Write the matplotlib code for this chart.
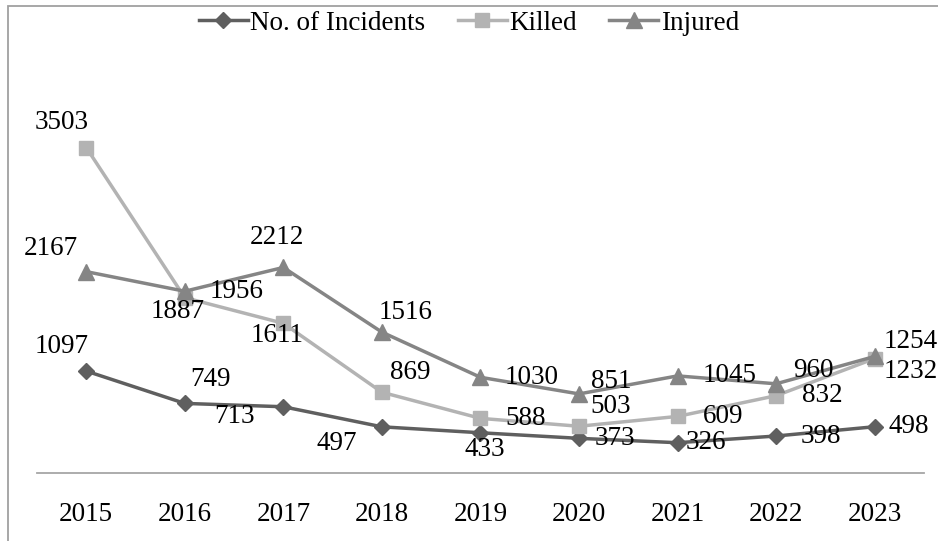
import matplotlib.pyplot as plt
from matplotlib.patches import Rectangle

years = ['2015', '2016', '2017', '2018', '2019', '2020', '2021', '2022', '2023']
incidents = [1097, 749, 713, 497, 433, 373, 326, 398, 498]
killed = [3503, 1887, 1611, 869, 588, 503, 609, 832, 1232]
injured = [2167, 1956, 2212, 1516, 1030, 851, 1045, 960, 1254]

# label offsets in pixels (dx, dy) for each point
off_inc = [(-25, 25), (26, 24), (-49, -10), (-45, -17), (4, -17), (36, 0), (28, 0), (45, 0), (34, 0)]
off_kil = [(-25, 25), (-7, -14), (-6, -12), (28, 20), (45, 0), (32, 20), (46, 0), (46, 0), (36, -13)]
off_inj = [(-35, 23), (52, 0), (-6, 30), (24, 20), (51, 0), (32, 12), (52, 0), (37, 13), (36, 15)]

plt.rcParams['font.family'] = ['Liberation Serif', 'DejaVu Serif']
fs = 19.5

fig = plt.figure(figsize=(9.38, 5.41), dpi=100)
ax = fig.add_axes([0.0394, 0.1257, 0.9456, 0.687])

x = list(range(len(years)))
c_inc, c_kil, c_inj = '#5f5f5f', '#b3b3b3', '#858585'

ax.plot(x, incidents, color=c_inc, lw=2.5, marker='D', ms=8.5, label='No. of Incidents')
ax.plot(x, killed, color=c_kil, lw=2.5, marker='s', ms=10.5, label='Killed')
ax.plot(x, injured, color=c_inj, lw=2.5, marker='^', ms=11.5, label='Injured')

for vals, offs in [(incidents, off_inc), (killed, off_kil), (injured, off_inj)]:
    for i, v in enumerate(vals):
        ax.annotate(str(v), (i, v), xytext=offs[i], textcoords='offset pixels',
                    ha='center', va='center', fontsize=fs, color='black')

ax.set_xlim(-0.5, 8.5)
ax.set_ylim(0, 4000)
ax.set_xticks(x)
ax.set_xticklabels(years, fontsize=fs)
ax.set_yticks([])
ax.tick_params(axis='x', length=0, pad=21)
for s in ['top', 'right', 'left']:
    ax.spines[s].set_visible(False)
ax.spines['bottom'].set_color('#a6a6a6')
ax.spines['bottom'].set_linewidth(1.3)

fig.legend(loc='upper center', bbox_to_anchor=(0.5, 1.0), ncol=3, frameon=False,
           fontsize=fs, handlelength=1.8, handletextpad=0.1, columnspacing=1.2,
           borderaxespad=0)

# outer chart border
fig.patches.append(Rectangle((8 / 938, -0.1), 1.2, 1.1 - 6 / 541, transform=fig.transFigure,
                             fill=False, edgecolor='#a0a0a0', lw=1.3))

fig.savefig('out.png', dpi=100)
